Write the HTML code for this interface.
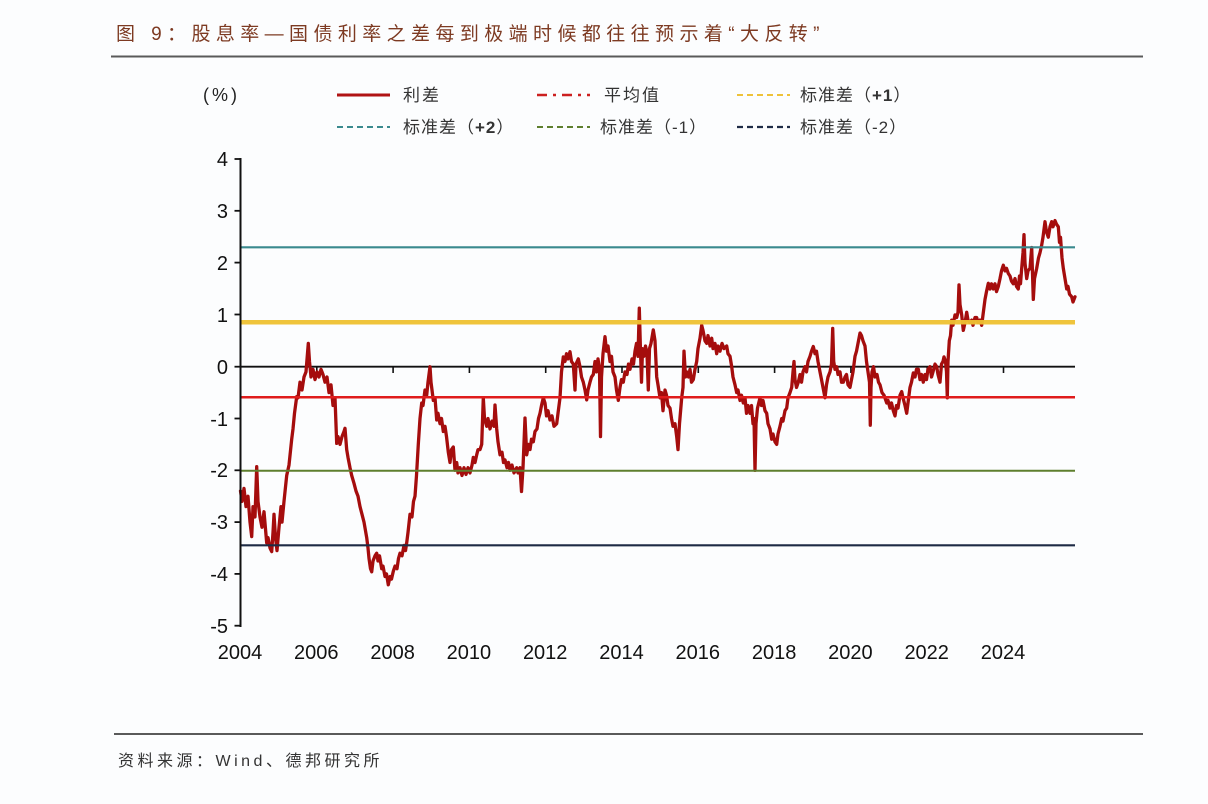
<!DOCTYPE html>
<html>
<head>
<meta charset="utf-8">
<style>
  html,body{margin:0;padding:0;background:#fcfdfe;}
  svg{display:block;}
  .cjk{font-family:"Liberation Sans","Noto Sans CJK SC",sans-serif;}
  .num{font-family:"Liberation Sans",sans-serif;}
</style>
</head>
<body>
<svg width="1208" height="804" viewBox="0 0 1208 804" xmlns="http://www.w3.org/2000/svg">
  <rect x="0" y="0" width="1208" height="804" fill="#fcfdfe"/>

  <!-- Title -->
  <text x="116" y="40" class="cjk" font-size="19" letter-spacing="5.4" fill="#7d3a22">图 9：股息率—国债利率之差每到极端时候都往往预示着“大反转”</text>
  <line x1="111" y1="56.5" x2="1143" y2="56.5" stroke="#5a5a5a" stroke-width="2"/>

  <!-- Legend -->
  <text x="203" y="101" class="num" font-size="18" letter-spacing="3" fill="#222">(%)</text>

  <line x1="337" y1="95" x2="390" y2="95" stroke="#b01414" stroke-width="3"/>
  <text x="403" y="101" class="cjk" font-size="17" letter-spacing="2" fill="#333">利差</text>

  <line x1="537" y1="95" x2="590" y2="95" stroke="#cc2020" stroke-width="2.5" stroke-dasharray="10,6,3,6"/>
  <text x="604" y="101" class="cjk" font-size="17" letter-spacing="2" fill="#333">平均值</text>

  <line x1="737" y1="95" x2="790" y2="95" stroke="#eec23a" stroke-width="2" stroke-dasharray="6,4"/>
  <text x="800" y="101" class="cjk" font-size="17" letter-spacing="1" fill="#333">标准差（<tspan class="num" font-weight="bold">+1</tspan>）</text>

  <line x1="337" y1="127" x2="390" y2="127" stroke="#3a8a8e" stroke-width="2" stroke-dasharray="6,4"/>
  <text x="403" y="133" class="cjk" font-size="17" letter-spacing="1" fill="#333">标准差（<tspan class="num" font-weight="bold">+2</tspan>）</text>

  <line x1="537" y1="127" x2="590" y2="127" stroke="#5e7f2e" stroke-width="2" stroke-dasharray="6,4"/>
  <text x="600" y="133" class="cjk" font-size="17" letter-spacing="1" fill="#333">标准差（<tspan class="num">-1</tspan>）</text>

  <line x1="737" y1="127" x2="790" y2="127" stroke="#1e2b45" stroke-width="2.2" stroke-dasharray="6,4"/>
  <text x="800" y="133" class="cjk" font-size="17" letter-spacing="1" fill="#333">标准差（<tspan class="num">-2</tspan>）</text>

  <!-- Zero line and x ticks -->
  <line x1="240.5" y1="366.7" x2="1075" y2="366.7" stroke="#111" stroke-width="1.8"/>
  <g stroke="#111" stroke-width="1.6">
    <line x1="316.8" y1="366.7" x2="316.8" y2="373"/>
    <line x1="393.1" y1="366.7" x2="393.1" y2="373"/>
    <line x1="469.4" y1="366.7" x2="469.4" y2="373"/>
    <line x1="545.7" y1="366.7" x2="545.7" y2="373"/>
    <line x1="622" y1="366.7" x2="622" y2="373"/>
    <line x1="698.3" y1="366.7" x2="698.3" y2="373"/>
    <line x1="774.6" y1="366.7" x2="774.6" y2="373"/>
    <line x1="850.9" y1="366.7" x2="850.9" y2="373"/>
    <line x1="927.2" y1="366.7" x2="927.2" y2="373"/>
    <line x1="1003.5" y1="366.7" x2="1003.5" y2="373"/>
  </g>

  <!-- Series -->
  <polyline fill="none" stroke="#a50d0d" stroke-width="3.3" stroke-linejoin="round" stroke-linecap="round" points="
240.5,491 242,501.4 244,488.4 246,506.6 248,496.2 250,522.1 251.7,536.6 253,506.6 255,517 256.7,466.7 258,501.4 260,517 262,527.3 264,511.7 266.7,542.8 268,537.6 270,548 271.7,551.6 273,532.5 274,514.3 275.5,537.6 277,550.6 279,527.3 281,506.6 282,522.1 284,501.4 286.7,475.5 289,465.1 291.7,439.2 293,428.9 294.5,413.3 296.7,396.7 298,397.8 300,382.2 302,390 304,377 306,371.9 308.3,343.4 309.5,361.5 311,377 313,369.3 315,379.6 317,371.9 319,377 321,369.3 323,374.5 325,382.2 327,377 329,392.6 331,384.8 333,405.5 335,397.8 336.7,443.4 338,436.6 340,444.4 342,436.6 344,431.5 345,428.3 346.7,449.6 348,457.4 350,467.7 351.7,475.5 354,483.3 356,491 358,496.2 360,506.6 362,514.3 364,522.1 366.7,537.6 368,548 369,558.4 370.5,568.7 371.7,571.8 373,561 375,555.8 376.7,553.2 378,561 379.5,555.8 381.7,568.7 383,566.1 385,576.5 386.5,573.9 388.3,584.8 390,576.5 391.5,579.1 393.3,571.3 395,566.1 397,568.7 398.5,558.4 400,553.2 402,555.8 404,545.4 405.5,550.6 406.7,542.8 408,532.5 410,514.3 412,516.9 413.5,501.4 415,496.2 416.5,475.5 418.3,444.4 420,418.5 421.7,403 423,405.5 425,390 426.7,395.2 428,382.2 430,366.7 431,382.2 432,390 433.3,400.4 435,397.8 436.7,420 438,413.3 440,423.7 441.5,418.5 443.3,431.5 445,426.3 446.5,436.6 448.3,452.2 450,462.5 451.5,449.6 453.3,447 455,470.3 456.7,462.5 458,472.9 460,467.7 462,475.5 464,467.7 466,474.4 468,467.7 470,472.9 472,465.1 473.3,457.4 475,462.5 476.7,454.8 478,449.6 480,449.6 481.7,444.4 483.3,397.8 484.5,418.5 486.7,426.3 488,418.5 490,428.9 492,421.1 494,426.3 495,405 496.7,428.9 498,441.8 500,454.8 502,452.2 503.5,462.5 505,459.9 507,467.7 508.5,462.5 510,470.3 512,465.1 514,472.9 516.7,467.7 518,472.9 520,467.7 521.5,491.5 523,467.7 525,418 526.7,454.8 528.5,444.4 530,449.6 531.5,439.2 533.3,441.8 535,431.5 537,428.9 538.5,418.5 540,413.3 541.5,405.5 543.3,397.8 545,403 546.5,415.9 548,410.7 550,420 552,415.9 554,426.3 556.7,423.7 558,413.3 560,397.8 561.5,371.9 563.3,356.9 565,361.5 566.5,353.7 568,358.9 570,351.7 571.5,361.5 573.3,364.1 575,390 576,364.1 578.3,358.9 580,366.7 581.5,377 583.3,382.2 585,390 586.7,399.9 588,390 590,382.2 591.5,377 593.3,374.5 595,361.5 596.5,371.9 598,358.9 599.5,369.3 600.5,436.6 601.5,377 603,353.7 605,336.7 606.5,351.2 608,346 610,361.5 611.5,356.3 613,371.9 615,377 616.5,390 618.3,400.4 620,387.4 621.5,379.6 623.3,382.2 625,371.9 627,374.5 628.5,364.1 630,369.3 632,358.9 633.5,364.1 635,351.2 636.5,343.4 638,356.3 639.3,308.2 640.5,351.2 641.5,382.2 642.5,348.6 644,356.3 645.5,346 647,353.7 648.3,390 649.5,348.6 651,343.4 653.3,329.9 655,340.8 656.7,377 658,384.8 660,397.8 661.5,392.6 663,410.7 665,390 666.5,395.2 668,405.5 670,408.1 671.5,418.5 673,426.3 675,423.7 676.7,436.6 678,449.6 679.5,423.7 681.7,397.8 683,387.4 684,351.2 685.5,377 686.7,371.9 688.5,377 690,369.3 691.5,382.2 693.3,379.6 695,369.3 696.7,361.5 698,348.6 700,338.2 701.7,325.3 703,330.4 705,340.8 706.7,343.4 708,335.6 710,346 711.7,338.2 713,348.6 715,343.4 716.7,353.7 718,346 720,351.2 722,343.4 724,348.6 726.7,346 728,353.7 730,356.3 731.7,366.7 733,377 735,384.8 736.7,392.6 738,390 740,400.4 741.5,395.2 743.3,403 745,397.8 746.5,413.3 748,405.5 750,413.3 751.5,405.5 753,423.7 754,418.5 755,470.3 756,423.7 757.5,408.1 760,397.8 761.5,405.5 763,400.4 765,410.7 766.7,413.3 768,423.7 770,428.9 771.7,439.2 773,434 775,441.8 776.7,444.4 778,434 780,426.3 781.7,418.5 783,421.1 785,410.7 786.7,408.1 788,397.8 790,392.6 791.7,387.4 793,371.9 794,361.5 795,379.6 796.5,387.4 798.3,382.2 800,374.5 801.5,382.2 803,371.9 805,366.7 806.5,371.9 808,361.5 810,356.3 811.5,351.2 813.3,346.5 815,353.7 816.5,351.2 818,361.5 820,371.9 821.5,379.6 823,387.4 825,397.8 826.5,384.8 828,377 830,371.9 831.5,364.1 832.7,328.4 833.7,361.5 835,369.3 836.7,366.7 838,374.5 840,371.9 841.5,382.2 843.3,382.2 845,377 846.5,374.5 848,384.8 850,387.4 851.5,379.6 853,371.9 855,356.3 856.5,351.2 858,343.4 860,333 861.5,335.6 863,340.8 865,346 866.5,361.5 868,371.9 869.5,382.2 870.3,425.2 871,387.4 872,371.9 873.5,366.7 875,377 877,374.5 878.5,382.2 880,384.8 882,392.6 884,395.2 886.7,403 888,400.4 890,408.1 891.5,403 893.3,410.7 895,415.9 896.5,405.5 898,408.1 900,395.2 901.7,391.6 903,397.8 905,405.5 906.7,413.3 908,403 910,387.4 911.5,382.2 913.3,372.9 915,377 916.5,369.3 918.3,369.3 920,379.6 921.5,374.5 923.3,382.2 925,374.5 926.5,379.6 928,369.3 930,366.7 931.5,377 933,371.9 935,364.1 936.7,366.7 938,374.5 940,382.2 941.5,364.1 943,361.5 944,356.9 945.5,361.5 946.5,371.9 947.3,397.8 948,361.5 949.3,340.8 950.5,335.6 951.7,320.1 953,325.3 955,314.9 956.7,317.5 958,312.3 959,284.9 960,304.5 961.7,314.9 963.3,330.4 965,322.7 966.7,312.3 968,320.1 970,322.7 971.7,320.1 973,325.3 975,317.5 976.7,317.5 978,322.7 980,320.1 981.7,325.3 983,314.9 985,299.4 986.5,291.6 988.3,283.3 990,289 991.5,283.8 993.3,289 995,283.8 996.5,291.6 998.3,286.4 1000,278.6 1001.5,270.9 1003.3,265.2 1005,270.9 1006.5,268.3 1008.3,273.5 1010,276 1011.5,281.2 1013.3,283.8 1015,278.6 1016.5,286.4 1018.3,289 1019.5,276 1020.5,283.8 1021.7,268.3 1023,252.7 1024,234.6 1025,263.1 1026.7,278.6 1028,270.9 1030,268.3 1031.7,247.5 1032.5,273.5 1033.3,299.4 1034.5,278.6 1036.7,268.3 1038.5,257.9 1040,252.7 1041.7,245 1043,237.2 1045,221.7 1046.5,232 1048.3,237.2 1050,226.8 1051.7,221.7 1053,226.8 1055,220.6 1056.5,224.2 1058.3,226.8 1059.5,242.4 1060.5,237.2 1062,257.9 1063.3,268.3 1065,278.6 1066.7,289 1068,286.4 1069.5,294.2 1071.7,296.8 1073,302 1075,296.8"/>

  <!-- Reference lines -->
  <line x1="240.5" y1="247.3" x2="1075" y2="247.3" stroke="#3a8a8e" stroke-width="2.2"/>
  <line x1="240.5" y1="322.3" x2="1075" y2="322.3" stroke="#efc232" stroke-width="4.5" opacity="0.95"/>
  <line x1="240.5" y1="397.3" x2="1075" y2="397.3" stroke="#e01c1c" stroke-width="2.5"/>
  <line x1="240.5" y1="470.7" x2="1075" y2="470.7" stroke="#5e7f2e" stroke-width="2"/>
  <line x1="240.5" y1="545.3" x2="1075" y2="545.3" stroke="#1e2b45" stroke-width="2.2"/>

  <!-- Y axis -->
  <line x1="240.5" y1="158" x2="240.5" y2="627" stroke="#111" stroke-width="2"/>
  <g stroke="#111" stroke-width="1.8">
    <line x1="234.5" y1="159" x2="240.5" y2="159"/>
    <line x1="234.5" y1="210.8" x2="240.5" y2="210.8"/>
    <line x1="234.5" y1="262.6" x2="240.5" y2="262.6"/>
    <line x1="234.5" y1="314.5" x2="240.5" y2="314.5"/>
    <line x1="234.5" y1="366.7" x2="240.5" y2="366.7"/>
    <line x1="234.5" y1="418.5" x2="240.5" y2="418.5"/>
    <line x1="234.5" y1="470.3" x2="240.5" y2="470.3"/>
    <line x1="234.5" y1="522.1" x2="240.5" y2="522.1"/>
    <line x1="234.5" y1="573.9" x2="240.5" y2="573.9"/>
    <line x1="234.5" y1="625.7" x2="240.5" y2="625.7"/>
  </g>
  <g class="num" font-size="20" fill="#111" text-anchor="end">
    <text x="228" y="166">4</text>
    <text x="228" y="218">3</text>
    <text x="228" y="270">2</text>
    <text x="228" y="322">1</text>
    <text x="228" y="374">0</text>
    <text x="228" y="426">-1</text>
    <text x="228" y="477">-2</text>
    <text x="228" y="529">-3</text>
    <text x="228" y="581">-4</text>
    <text x="228" y="633">-5</text>
  </g>

  <!-- X labels -->
  <g class="num" font-size="20" fill="#111" text-anchor="middle">
    <text x="240" y="659">2004</text>
    <text x="316.3" y="659">2006</text>
    <text x="392.6" y="659">2008</text>
    <text x="468.9" y="659">2010</text>
    <text x="545.2" y="659">2012</text>
    <text x="621.5" y="659">2014</text>
    <text x="697.8" y="659">2016</text>
    <text x="774.1" y="659">2018</text>
    <text x="850.4" y="659">2020</text>
    <text x="926.7" y="659">2022</text>
    <text x="1003" y="659">2024</text>
  </g>

  <!-- Footer -->
  <line x1="114" y1="734" x2="1143" y2="734" stroke="#5a5a5a" stroke-width="2"/>
  <text x="118" y="766" class="cjk" font-size="16" letter-spacing="3.5" fill="#333">资料来源：Wind、德邦研究所</text>
</svg>
</body>
</html>
